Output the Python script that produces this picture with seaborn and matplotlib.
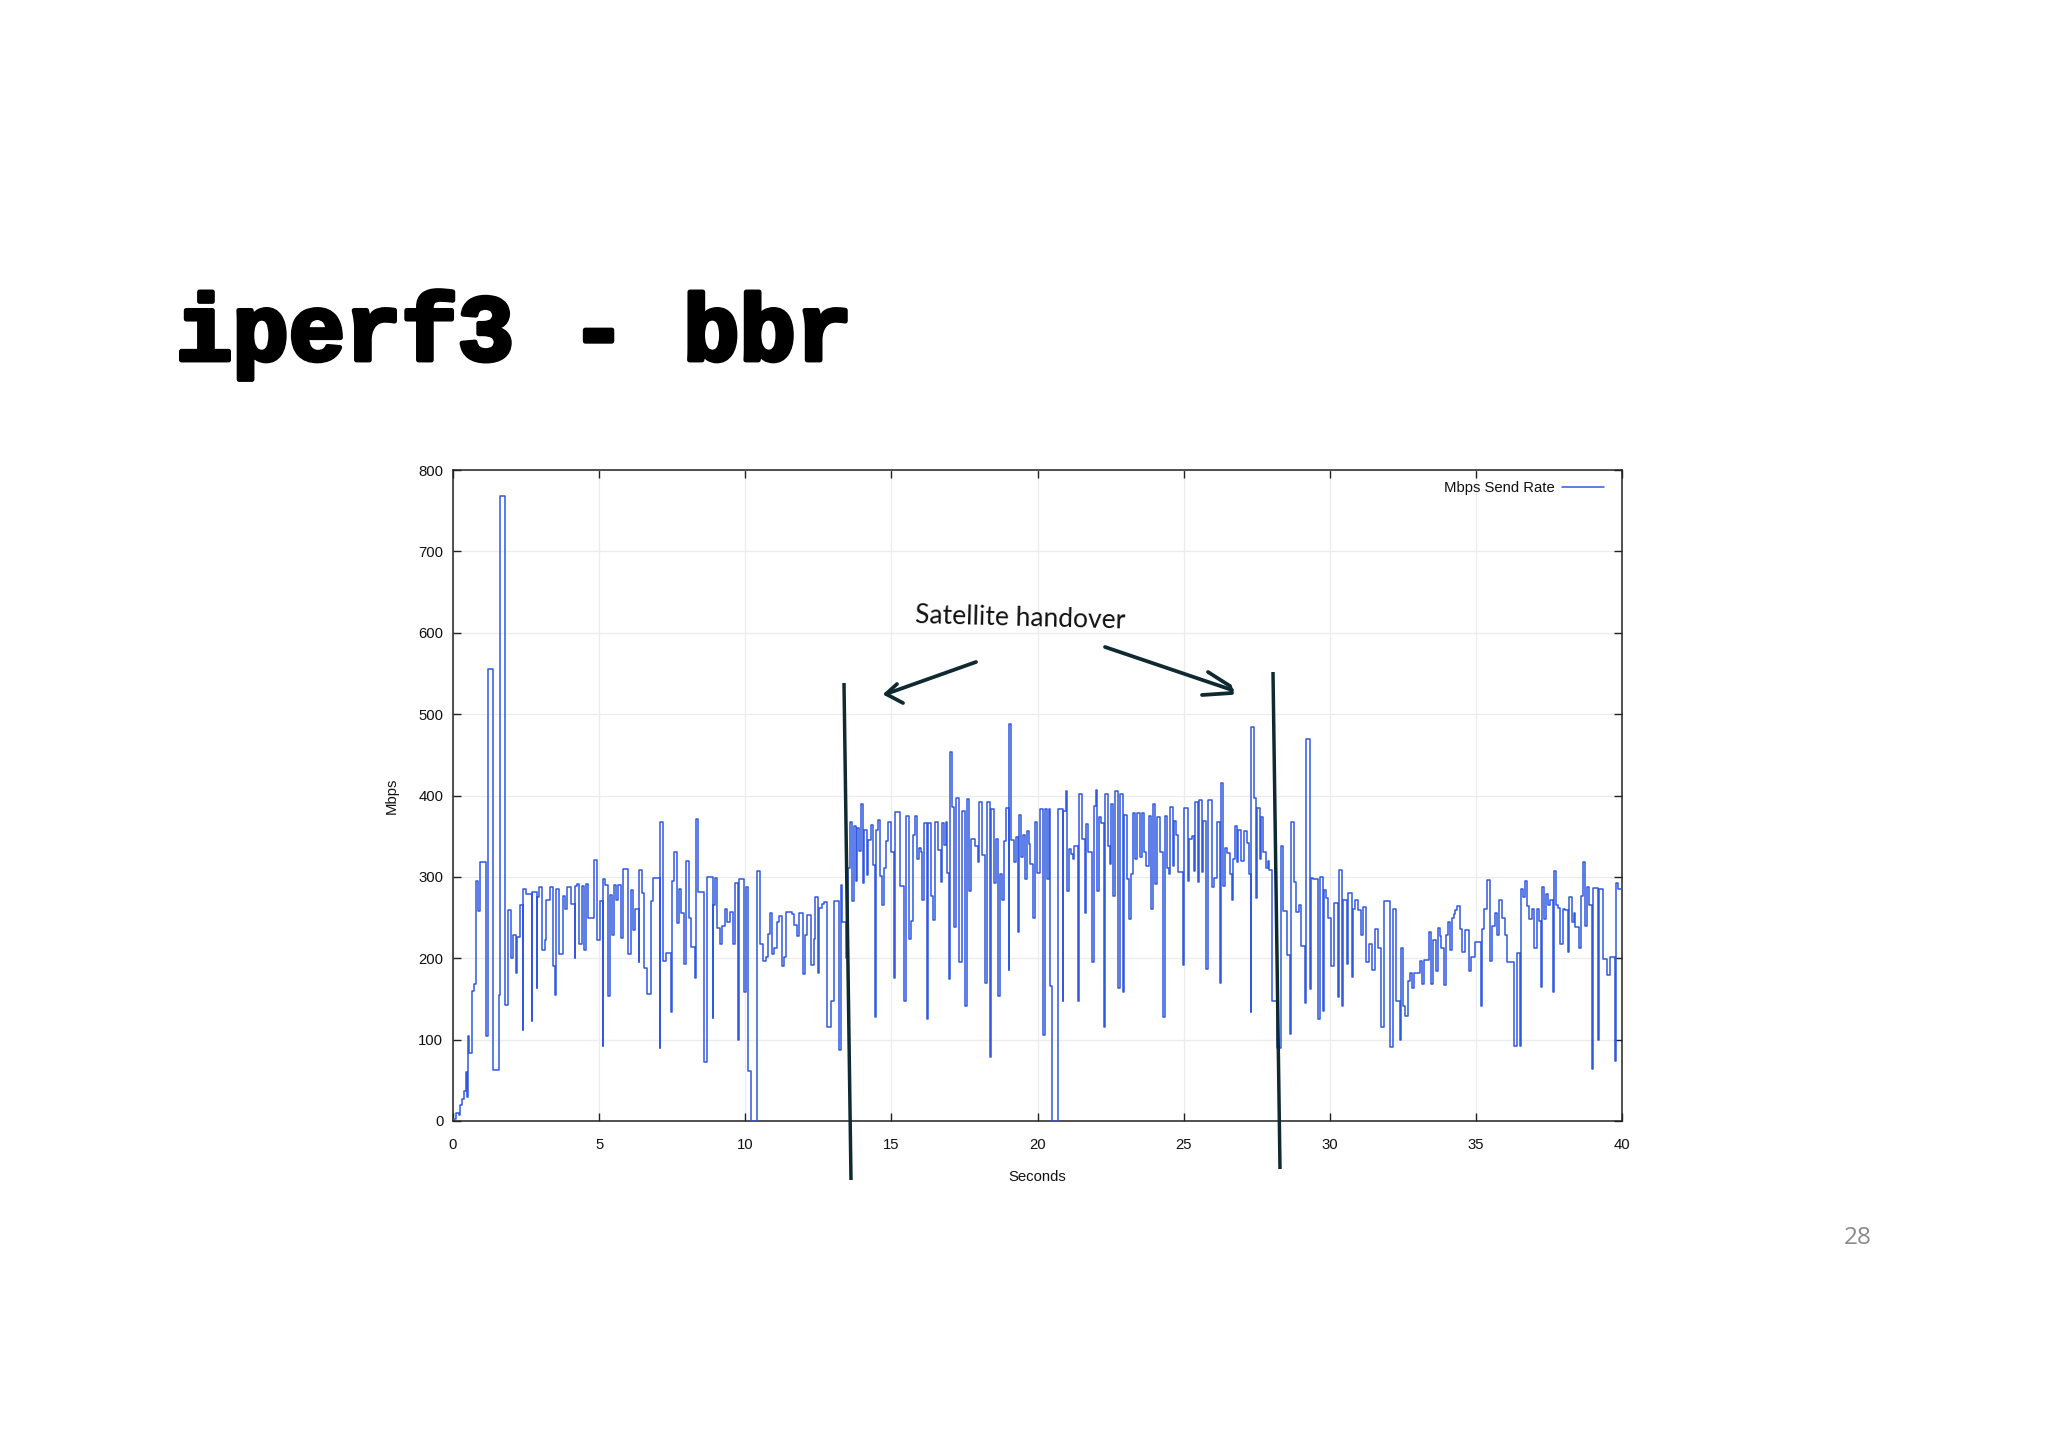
# iperf3 bbr send rate slide
import pandas as pd
import seaborn as sns
import matplotlib.pyplot as plt
import matplotlib.patheffects as pe

sns.set_style('white')
plt.rcParams['font.family'] = ['Liberation Sans', 'DejaVu Sans']

# (seconds, Mbps) where the step changes
ramp_up = [(0, 3), (0.1, 10), (0.2, 7), (0.25, 20), (0.3, 27), (0.36, 37), (0.44, 60), (0.47, 30), (0.53, 105),
           (0.56, 83), (0.65, 160), (0.73, 168), (0.79, 295), (0.86, 258), (0.93, 318), (1.14, 105), (1.2, 555),
           (1.37, 63), (1.57, 155), (1.6, 768), (1.79, 142), (1.87, 259), (1.98, 200), (2.05, 228), (2.17, 182),
           (2.19, 226), (2.28, 265), (2.39, 112), (2.41, 285), (2.5, 279), (2.7, 123), (2.72, 282), (2.87, 163),
           (2.89, 275), (2.94, 288), (3.03, 210), (3.15, 223), (3.18, 271), (3.33, 288), (3.42, 190), (3.48, 155),
           (3.53, 285), (3.63, 205), (3.75, 277), (3.83, 260), (3.9, 287), (4.04, 267), (4.16, 200), (4.18, 289),
           (4.26, 291), (4.32, 218), (4.4, 289), (4.47, 210), (4.55, 291), (4.62, 250), (4.83, 321), (4.93, 223),
           (5.04, 270), (5.12, 92), (5.14, 298), (5.2, 290), (5.29, 153), (5.36, 278), (5.44, 228), (5.5, 290),
           (5.59, 272), (5.63, 290), (5.75, 225), (5.83, 310), (6.0, 205), (6.08, 284), (6.15, 235), (6.22, 261),
           (6.36, 196), (6.38, 308), (6.46, 280), (6.55, 188), (6.65, 156), (6.77, 270), (6.85, 299), (7.07, 90),
           (7.09, 368), (7.2, 197), (7.3, 206), (7.47, 134), (7.49, 295), (7.56, 330), (7.65, 243), (7.73, 285),
           (7.8, 256), (7.89, 193), (7.97, 320), (8.06, 250), (8.13, 214), (8.29, 176), (8.31, 371), (8.38, 281),
           (8.6, 72), (8.69, 300), (8.89, 126), (8.91, 266), (8.97, 299), (9.05, 237), (9.13, 218), (9.2, 240),
           (9.29, 260), (9.39, 245), (9.49, 257), (9.57, 217), (9.65, 292), (9.76, 100), (9.78, 298), (9.95, 158),
           (10.01, 288), (10.11, 62), (10.2, 0), (10.4, 307), (10.49, 217), (10.6, 197), (10.7, 202), (10.79, 230),
           (10.84, 255), (10.92, 205), (11.0, 213), (11.08, 245), (11.15, 252), (11.25, 190), (11.32, 202),
           (11.39, 257), (11.6, 254), (11.67, 241), (11.76, 227), (11.85, 255), (11.96, 181), (12.04, 229),
           (12.13, 253), (12.25, 192), (12.34, 224), (12.39, 275), (12.48, 182), (12.54, 262), (12.62, 267),
           (12.7, 269), (12.79, 115), (12.95, 148), (13.02, 270)]

between_handovers = [(13.2, 87), (13.27, 290), (13.32, 245), (13.44, 200), (13.53, 311), (13.6, 368), (13.66, 270),
                     (13.72, 363), (13.79, 295), (13.84, 360), (13.9, 332), (13.95, 389), (14.02, 292), (14.08, 357),
                     (14.15, 302), (14.2, 345), (14.3, 364), (14.38, 315), (14.44, 128), (14.46, 358), (14.53, 370),
                     (14.61, 301), (14.69, 265), (14.76, 311), (14.83, 344), (14.9, 367), (15.0, 331), (15.1, 176),
                     (15.14, 380), (15.29, 289), (15.43, 148), (15.49, 375), (15.59, 224), (15.68, 246), (15.73, 352),
                     (15.8, 375), (15.87, 322), (15.94, 336), (16.0, 331), (16.06, 272), (16.11, 366), (16.21, 125),
                     (16.27, 366), (16.36, 276), (16.44, 247), (16.5, 368), (16.58, 333), (16.69, 294), (16.74, 366),
                     (16.8, 339), (16.86, 368), (16.92, 305), (16.98, 175), (17.0, 454), (17.08, 386), (17.13, 239),
                     (17.2, 397), (17.3, 196), (17.4, 272), (17.43, 381), (17.53, 141), (17.59, 396), (17.67, 283),
                     (17.73, 347), (17.85, 338), (17.95, 318), (18.01, 392), (18.09, 327), (18.21, 169), (18.28, 392),
                     (18.36, 79), (18.42, 384), (18.5, 293), (18.57, 347), (18.64, 154), (18.72, 304), (18.8, 272),
                     (18.86, 344), (18.92, 385), (19.02, 186), (19.04, 488), (19.11, 345), (19.18, 318), (19.25, 349),
                     (19.33, 232), (19.37, 376), (19.45, 325), (19.51, 351), (19.58, 298), (19.63, 356), (19.71, 341),
                     (19.76, 316), (19.84, 249), (19.91, 367), (19.98, 305), (20.07, 384), (20.18, 106), (20.25, 383),
                     (20.33, 298), (20.4, 384), (20.43, 166), (20.51, 0), (20.7, 384), (20.86, 148), (20.88, 381),
                     (20.96, 405), (21.0, 283), (21.07, 334), (21.14, 328), (21.21, 322), (21.26, 338), (21.37, 148),
                     (21.43, 402), (21.53, 346), (21.61, 255), (21.67, 365), (21.73, 331), (21.88, 195), (21.92, 387),
                     (21.99, 407), (22.05, 283), (22.1, 373), (22.17, 366), (22.27, 116), (22.32, 402), (22.4, 338),
                     (22.47, 316), (22.52, 389), (22.59, 276), (22.65, 406), (22.74, 163), (22.81, 402), (22.92, 159),
                     (22.97, 376), (23.06, 297), (23.13, 248), (23.2, 304), (23.26, 378), (23.33, 322), (23.42, 378),
                     (23.5, 324), (23.56, 378), (23.64, 331), (23.71, 313), (23.8, 375), (23.88, 261), (23.95, 390),
                     (24.03, 291), (24.09, 374), (24.18, 330), (24.29, 128), (24.35, 375), (24.43, 311), (24.5, 304),
                     (24.54, 386), (24.62, 313), (24.68, 369), (24.75, 352), (24.82, 306), (24.98, 192), (25.02, 385),
                     (25.14, 295), (25.2, 346), (25.29, 350), (25.36, 307), (25.4, 392), (25.48, 294), (25.54, 395),
                     (25.62, 306), (25.66, 369), (25.78, 187), (25.83, 395), (25.96, 288), (26.04, 299), (26.14, 367),
                     (26.23, 169), (26.28, 415), (26.36, 289), (26.42, 335), (26.5, 329), (26.6, 304), (26.64, 272),
                     (26.69, 322), (26.75, 362), (26.82, 318), (26.87, 357), (26.96, 320), (27.06, 356), (27.16, 342),
                     (27.24, 304), (27.3, 134), (27.32, 484), (27.4, 397), (27.47, 274), (27.52, 385), (27.6, 322),
                     (27.66, 374), (27.73, 331), (27.81, 311), (27.88, 320), (27.93, 308)]

after_handover = [(28.04, 148), (28.18, 90), (28.32, 338), (28.41, 258), (28.55, 204), (28.64, 107), (28.68, 367),
                  (28.78, 294), (28.86, 257), (28.94, 266), (29.03, 215), (29.17, 145), (29.19, 470), (29.33, 162),
                  (29.36, 299), (29.44, 298), (29.61, 125), (29.65, 300), (29.78, 135), (29.82, 284), (29.87, 274),
                  (29.95, 249), (30.03, 190), (30.13, 268), (30.27, 152), (30.31, 309), (30.43, 141), (30.47, 271),
                  (30.6, 193), (30.64, 280), (30.76, 177), (30.8, 261), (30.87, 272), (30.96, 259), (31.06, 229),
                  (31.15, 263), (31.23, 196), (31.34, 218), (31.44, 186), (31.54, 236), (31.64, 212), (31.75, 115),
                  (31.84, 270), (32.07, 91), (32.16, 260), (32.28, 148), (32.39, 99), (32.43, 213), (32.49, 141),
                  (32.59, 129), (32.67, 172), (32.74, 182), (32.82, 164), (32.88, 182), (33.09, 197), (33.15, 168),
                  (33.22, 198), (33.39, 232), (33.46, 168), (33.55, 223), (33.65, 184), (33.7, 237), (33.78, 227),
                  (33.82, 213), (33.92, 167), (33.97, 229), (34.04, 245), (34.1, 210), (34.17, 249), (34.24, 254),
                  (34.3, 259), (34.37, 264), (34.45, 236), (34.53, 208), (34.62, 235), (34.76, 184), (34.85, 202),
                  (34.97, 220), (35.17, 141), (35.22, 236), (35.29, 260), (35.38, 296), (35.47, 197), (35.56, 240),
                  (35.64, 255), (35.72, 229), (35.79, 272), (35.88, 249), (35.98, 229), (36.07, 195), (36.3, 92),
                  (36.42, 206), (36.52, 92), (36.54, 285), (36.61, 275), (36.67, 295), (36.76, 264), (36.83, 248),
                  (36.92, 260), (36.99, 213), (37.08, 261), (37.15, 246), (37.23, 165), (37.25, 288), (37.32, 248),
                  (37.4, 279), (37.47, 266), (37.54, 272), (37.64, 159), (37.66, 307), (37.73, 266), (37.8, 262),
                  (37.89, 218), (37.98, 261), (38.06, 259), (38.14, 208), (38.2, 275), (38.28, 245), (38.35, 256),
                  (38.4, 239), (38.53, 213), (38.6, 277), (38.65, 318), (38.72, 240), (38.79, 288), (38.86, 265),
                  (38.97, 64), (39.02, 286), (39.19, 99), (39.22, 285), (39.35, 199), (39.47, 179), (39.6, 202),
                  (39.76, 74), (39.79, 292), (39.86, 285), (40, 285)]

x_ticks = [0, 5, 10, 15, 20, 25, 30, 35, 40]
y_ticks = [0, 100, 200, 300, 400, 500, 600, 700, 800]

rate = pd.DataFrame(ramp_up + between_handovers + after_handover, columns=['seconds', 'mbps'])

W, H = 2048, 1448
fig = plt.figure(figsize=(W / 100, H / 100), dpi=100, facecolor='white')
ax = fig.add_axes([453 / W, 1 - 1121 / H, (1622 - 453) / W, (1121 - 470) / H])

sns.lineplot(data=rate, x='seconds', y='mbps', drawstyle='steps-post', estimator=None, sort=False,
             color='#3058e0', linewidth=1.1, label='Mbps Send Rate', ax=ax, zorder=3)

ax.set_xlim(0, 40)
ax.set_ylim(0, 800)
ax.set_xticks(x_ticks)
ax.set_yticks(y_ticks)
ax.grid(True, color='#ececec', linewidth=0.9)
ax.set_axisbelow(True)
ax.tick_params(direction='in', length=6, width=1, color='#222222', top=True, right=True, bottom=True, left=True,
               labelsize=10.7, labelcolor='#111111')
ax.tick_params(axis='y', pad=7)
ax.tick_params(axis='x', pad=12)
for side in ax.spines.values():
    side.set_color('#222222')
    side.set_linewidth(1.1)
ax.set_xlabel('Seconds', fontsize=10.7, color='#111111', labelpad=13)
ax.set_ylabel('Mbps', fontsize=10.7, color='#111111', labelpad=14)
ax.legend(loc='upper right', bbox_to_anchor=(0.9846, 0.983), frameon=False, markerfirst=False, fontsize=10.7,
          handlelength=2.8, borderaxespad=0, borderpad=0, handletextpad=0.5, labelcolor='#111111')

# slide level stuff sits on a full page overlay in pixels
page = fig.add_axes([0, 0, 1, 1], facecolor='none')
page.set_xlim(0, W)
page.set_ylim(H, 0)
page.axis('off')

page.text(176, 360, 'iperf3 - bbr', family='Liberation Mono', fontweight='bold', fontsize=67.6, color='black',
          path_effects=[pe.withStroke(linewidth=3.5, foreground='black')])
page.text(1858, 1238, '28', fontsize=17.5, color='#8a8a8a', ha='center', va='center', family='Open Sans')
page.text(915, 628, 'Satellite handover', fontsize=19, color='#111111', family='Lato',
          rotation=-1.5, va='baseline')

ink = '#0e2a30'
page.plot([844, 851], [683, 1180], color=ink, lw=2.5, solid_capstyle='butt')
page.plot([1273, 1280], [672, 1169], color=ink, lw=2.5, solid_capstyle='butt')
page.plot([976, 886], [662, 694], color=ink, lw=2.7)
page.plot([897, 886, 903], [684, 694, 703], color=ink, lw=2.7)
page.plot([1105, 1232], [647, 690], color=ink, lw=2.7)
page.plot([1208, 1230, 1232, 1202], [672, 686, 693, 695], color=ink, lw=2.7)

fig.savefig('out.png', dpi=100)
